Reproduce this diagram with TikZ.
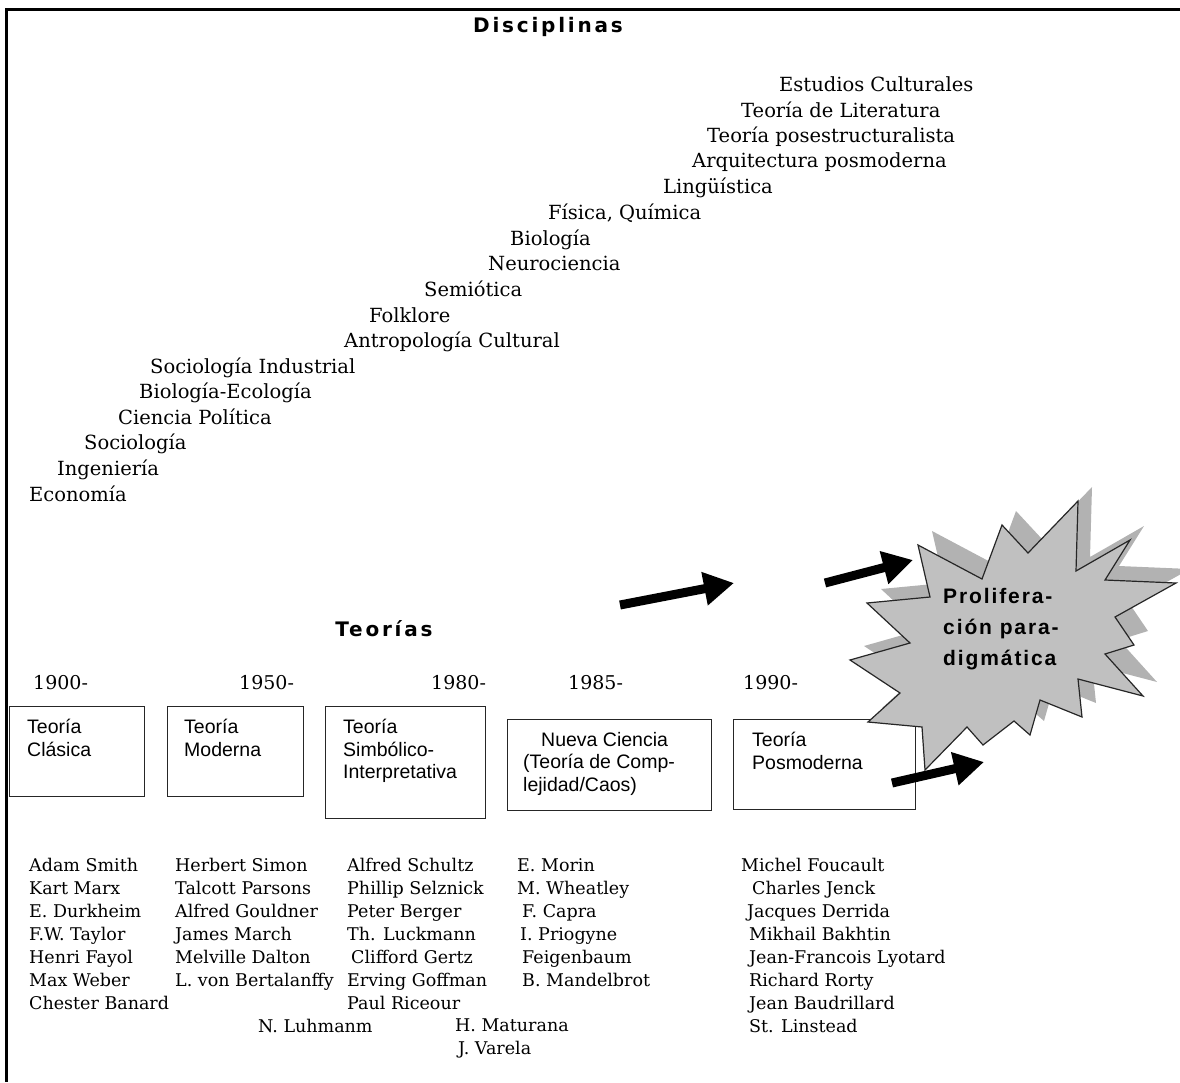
\documentclass[tikz,border=0pt]{standalone}
\usepackage{fontspec}
\setmainfont{DejaVu Serif}
\newfontfamily\boxfont{Liberation Sans}
\newfontfamily\headfont[LetterSpace=14]{DejaVu Sans}
\newfontfamily\starfont[LetterSpace=9]{Liberation Sans}
\usetikzlibrary{arrows.meta}
\definecolor{stargray}{RGB}{192,192,192}
\definecolor{shadegray}{RGB}{178,178,178}

\begin{document}
\begin{tikzpicture}
                [x=1pt, y=-1pt,
                dsty/.style={anchor=mid west, inner sep=0pt, yshift=-5pt, font=\fontsize{19.5}{23}\selectfont},
                ysty/.style={anchor=mid west, inner sep=0pt, yshift=-4pt, font=\fontsize{19}{23}\selectfont},
                hsty/.style={inner sep=0pt, font=\headfont\bfseries\fontsize{20}{24}\selectfont},
                bsty/.style={draw=black!85, line width=1.4pt, inner sep=0pt, anchor=north west},
                btsty/.style={anchor=north west, inner sep=0pt, align=left, font=\boxfont\fontsize{19.5}{22.5}\selectfont},
                psty/.style={anchor=north west, inner sep=0pt, align=left, font=\fontsize{17.5}{23}\selectfont},
                ssty/.style={anchor=north west, inner sep=0pt, align=left, font=\starfont\bfseries\fontsize{21}{31}\selectfont},
                asty/.style={line width=9pt, -{Triangle[length=30pt, width=32pt]}}]
                \useasboundingbox (0,0) rectangle (1180,1082);
                \clip (0,0) rectangle (1180,1082);
                % frame
                \draw[line width=3pt] (5,9) -- (1180,9);
                \draw[line width=3pt] (6.5,9) -- (6.5,1082);
                % headings
                \node[hsty] (disc) at (548,27) {Disciplinas};
                \node[hsty] (teor) at (384,629) {Teorías};
                % disciplines
                \node[dsty] (d1)  at (779,84)  {Estudios Culturales};
                \node[dsty] (d2)  at (741,110) {Teoría de Literatura};
                \node[dsty] (d3)  at (707,135) {Teoría posestructuralista};
                \node[dsty] (d4)  at (692,160) {Arquitectura posmoderna};
                \node[dsty] (d5)  at (663,186) {Lingüística};
                \node[dsty] (d6)  at (548,212) {Física, Química};
                \node[dsty] (d7)  at (510,238) {Biología};
                \node[dsty] (d8)  at (488,263) {Neurociencia};
                \node[dsty] (d9)  at (424,289) {Semiótica};
                \node[dsty] (d10) at (369,315) {Folklore};
                \node[dsty] (d11) at (344,340) {Antropología Cultural};
                \node[dsty] (d12) at (150,366) {Sociología Industrial};
                \node[dsty] (d13) at (139,391) {Biología-Ecología};
                \node[dsty] (d14) at (118,417) {Ciencia Política};
                \node[dsty] (d15) at (84,442)  {Sociología};
                \node[dsty] (d16) at (57,468)  {Ingeniería};
                \node[dsty] (d17) at (29,494)  {Economía};
                % years
                \node[ysty] (y1900) at (33,683)  {1900-};
                \node[ysty] (y1950) at (239,683) {1950-};
                \node[ysty] (y1980) at (431,683) {1980-};
                \node[ysty] (y1985) at (568,683) {1985-};
                \node[ysty] (y1990) at (743,683) {1990-};
                % theory boxes
                \node[bsty, minimum width=135pt, minimum height=90pt]  (clasica) at (9,706)   {};
                \node[bsty, minimum width=136pt, minimum height=90pt]  (moderna) at (167,706) {};
                \node[bsty, minimum width=160pt, minimum height=112pt] (simbol)  at (325,706) {};
                \node[bsty, minimum width=204pt, minimum height=91pt]  (nueva)   at (507,719) {};
                \node[bsty, minimum width=182pt, minimum height=90pt]  (posmod)  at (733,719) {};
                \node[btsty] (tclasica) at (27,719)  {Teoría\\Clásica};
                \node[btsty] (tmoderna) at (184,719) {Teoría\\Moderna};
                \node[btsty] (tsimbol)  at (343,719) {Teoría\\Simbólico-\\Interpretativa};
                \node[btsty] (tnueva)   at (523,732) {\hspace*{18pt}Nueva Ciencia\\(Teoría de Comp-\\lejidad/Caos)};
                \node[btsty] (tposmod)  at (752,732) {Teoría\\Posmoderna};
                % burst (shadow, then shape)
                \fill[shadegray, shift={(14,-14)}]
                      (918,545) -- (982,579) -- (1002,525) -- (1028,553) -- (1078,501)
                      -- (1076,571) -- (1130,540) -- (1105,580) -- (1176,583) -- (1115,617)
                      -- (1134,645) -- (1105,654) -- (1143,696) -- (1078,679) -- (1082,717)
                      -- (1040,700) -- (1030,735) -- (1014,721) -- (983,745) -- (967,727)
                      -- (925,770) -- (922,727) -- (868,722) -- (900,693) -- (850,660)
                      -- (910,643) -- (867,603) -- (930,597) -- cycle;
                \draw[black!85, line width=1.2pt, fill=stargray]
                      (918,545) -- (982,579) -- (1002,525) -- (1028,553) -- (1078,501)
                      -- (1076,571) -- (1130,540) -- (1105,580) -- (1176,583) -- (1115,617)
                      -- (1134,645) -- (1105,654) -- (1143,696) -- (1078,679) -- (1082,717)
                      -- (1040,700) -- (1030,735) -- (1014,721) -- (983,745) -- (967,727)
                      -- (925,770) -- (922,727) -- (868,722) -- (900,693) -- (850,660)
                      -- (910,643) -- (867,603) -- (930,597) -- cycle;
                \node[ssty] (prolif) at (943,588) {Prolifera-\\ción para-\\digmática};
                % arrows
                \coordinate (a1s) at (620,605);
                \coordinate (a1e) at (734,583);
                \coordinate (a2s) at (825,583);
                \coordinate (a2e) at (913,560);
                \coordinate (a3s) at (892,783);
                \coordinate (a3e) at (984,762);
                \draw[asty] (a1s) -- (a1e);
                \draw[asty] (a2s) -- (a2e);
                \draw[asty] (a3s) -- (a3e);
                % authors
                \node[psty] (p1) at (29,858) {Adam Smith\\Kart Marx\\E. Durkheim\\F.W. Taylor\\Henri Fayol\\Max Weber\\Chester Banard};
                \node[psty] (p2) at (175,858) {Herbert Simon\\Talcott Parsons\\Alfred Gouldner\\James March\\Melville Dalton\\L. von Bertalanffy};
                \node[psty] (p3) at (347,858) {Alfred Schultz\\Phillip Selznick\\Peter Berger\\Th. Luckmann\\\hspace*{4pt}Clifford Gertz\\Erving Goffman\\Paul Riceour};
                \node[psty] (p4) at (258,1019) {N. Luhmanm};
                \node[psty] (p5) at (455,1019) {H. Maturana\\\hspace*{3pt}J. Varela};
                \node[psty] (p6) at (517,858) {E. Morin\\M. Wheatley\\\hspace*{5pt}F. Capra\\\hspace*{3pt}I. Priogyne\\\hspace*{5pt}Feigenbaum\\\hspace*{5pt}B. Mandelbrot};
                \node[psty] (p7) at (741,858) {Michel Foucault\\\hspace*{11pt}Charles Jenck\\\hspace*{6pt}Jacques Derrida\\\hspace*{8pt}Mikhail Bakhtin\\\hspace*{8pt}Jean-Francois Lyotard\\\hspace*{8pt}Richard Rorty\\\hspace*{8pt}Jean Baudrillard\\\hspace*{8pt}St. Linstead};
            \end{tikzpicture}
\end{document}
